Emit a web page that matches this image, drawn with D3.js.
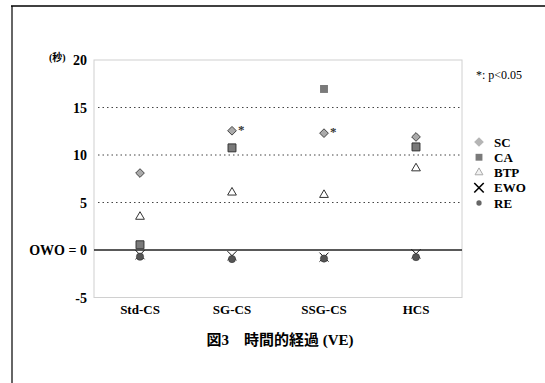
<!DOCTYPE html>
<html>
<head>
<meta charset="utf-8">
<script src="https://cdn.jsdelivr.net/npm/d3@7"></script>
<style>
  body { margin: 0; background: #fff; }
  text { font-family: "Liberation Serif", "Noto Sans CJK JP", serif; }
</style>
</head>
<body>
<script>
// data
var groups = ["Std-CS", "SG-CS", "SSG-CS", "HCS"];
var SC  = [8.1, 12.55, 12.3, 11.9];
var CA  = [0.55, 10.75, 16.95, 10.85];
var BTP = [3.5, 6.05, 5.8, 8.6];
var EWO = [-0.5, -0.6, -0.75, -0.4];
var RE  = [-0.7, -0.95, -0.9, -0.75];
var scSig = [false, true, true, false];   // "*" beside SC
var yTicks = [-5, 0, 5, 10, 15, 20];
var seriesNames = ["SC", "CA", "BTP", "EWO", "RE"];

var width = 545, height = 383;
var svg = d3.select("body").append("svg")
            .attr("width", width)
            .attr("height", height);

// outer frame (left + top lines)
svg.append("line").attr("x1", 12).attr("x2", 12).attr("y1", 6).attr("y2", height)
   .attr("stroke", "#666").attr("stroke-width", 2);
svg.append("line").attr("x1", 11).attr("x2", width).attr("y1", 6).attr("y2", 6)
   .attr("stroke", "#000").attr("stroke-width", 1.5);

var plot = {left: 94, right: 462, top: 60, bottom: 297.5};

var x = d3.scaleBand().domain(groups).range([plot.left, plot.right]);
var y = d3.scaleLinear().domain([-5, 20]).range([plot.bottom, plot.top]);
var cx = function (i) { return x(groups[i]) + x.bandwidth() / 2; };

// plot border
svg.append("rect")
   .attr("x", plot.left).attr("y", plot.top)
   .attr("width", plot.right - plot.left).attr("height", plot.bottom - plot.top)
   .attr("fill", "none").attr("stroke", "#d0d0d0").attr("stroke-width", 1);

// dotted grid lines
svg.selectAll(".grid").data([5, 10, 15]).enter().append("line")
   .attr("x1", plot.left + 4).attr("x2", plot.right)
   .attr("y1", function (d) { return y(d); }).attr("y2", function (d) { return y(d); })
   .attr("stroke", "#444").attr("stroke-width", 1).attr("stroke-dasharray", "1.5,3");

// zero line
svg.append("line")
   .attr("x1", plot.left).attr("x2", plot.right)
   .attr("y1", y(0)).attr("y2", y(0))
   .attr("stroke", "#222").attr("stroke-width", 1.3);

// y tick labels
svg.selectAll(".ytick").data(yTicks).enter().append("text")
   .attr("x", 87).attr("y", function (d) { return y(d) + 5; })
   .attr("text-anchor", "end").attr("font-size", 14).attr("font-weight", "bold")
   .text(function (d) { return d === 0 ? "OWO = 0" : d; });

svg.append("text").attr("x", 49).attr("y", 61)
   .attr("font-size", 10).attr("font-weight", "bold").text("(秒)");

// x labels
svg.selectAll(".xlab").data(groups).enter().append("text")
   .attr("x", function (d) { return x(d) + x.bandwidth() / 2; })
   .attr("y", 313.5)
   .attr("text-anchor", "middle").attr("font-size", 13).attr("font-weight", "bold")
   .text(function (d) { return d; });

// title
svg.append("text").attr("x", 280).attr("y", 345)
   .attr("text-anchor", "middle").attr("font-size", 15).attr("font-weight", "bold")
   .text("図3　時間的経過 (VE)");

svg.append("text").attr("x", 476).attr("y", 79)
   .attr("font-size", 12).text("*: p<0.05");

// markers
var diamond = d3.symbol().type(d3.symbolDiamond2).size(48);
var square = d3.symbol().type(d3.symbolSquare2).size(80);
var triangle = d3.symbol().type(d3.symbolTriangle2).size(55);
var cross = d3.symbol().type(d3.symbolX).size(55);

svg.selectAll(".btp").data(BTP).enter().append("path")
   .attr("d", triangle)
   .attr("transform", function (d, i) { return "translate(" + cx(i) + "," + y(d) + ")"; })
   .attr("fill", "#fff").attr("stroke", "#333").attr("stroke-width", 1);

svg.selectAll(".ca").data(CA).enter().append("path")
   .attr("d", square)
   .attr("transform", function (d, i) { return "translate(" + cx(i) + "," + y(d) + ")"; })
   .attr("fill", "#7a7a7a")
   .attr("stroke", function (d, i) { return i === 2 ? "none" : "#333"; })
   .attr("stroke-width", 1);

svg.selectAll(".sc").data(SC).enter().append("path")
   .attr("d", diamond)
   .attr("transform", function (d, i) { return "translate(" + cx(i) + "," + y(d) + ")"; })
   .attr("fill", "#aaa").attr("stroke", "#444").attr("stroke-width", 1);

svg.selectAll(".sig").data(SC).enter().append("text")
   .filter(function (d, i) { return scSig[i]; })
   .attr("x", function (d) { return cx(SC.indexOf(d)) + 6; })
   .attr("y", function (d) { return y(d) + 3; })
   .attr("font-size", 13).attr("font-weight", "bold").attr("fill", "#333")
   .text("*");

svg.selectAll(".ewo").data(EWO).enter().append("path")
   .attr("d", cross)
   .attr("transform", function (d, i) { return "translate(" + cx(i) + "," + y(d) + ")"; })
   .attr("fill", "none").attr("stroke", "#111").attr("stroke-width", 1);

svg.selectAll(".re").data(RE).enter().append("circle")
   .attr("cx", function (d, i) { return cx(i); })
   .attr("cy", function (d) { return y(d); })
   .attr("r", 3.6)
   .attr("fill", "#555").attr("stroke", "#333").attr("stroke-width", 0.6);

// legend
var legY = d3.scalePoint().domain(seriesNames).range([142, 203]);
var leg = svg.selectAll(".leg").data(seriesNames).enter().append("g")
             .attr("transform", function (d) { return "translate(479," + legY(d) + ")"; });
leg.append("path")
   .attr("d", function (d) {
     if (d === "SC") return d3.symbol().type(d3.symbolDiamond2).size(60)();
     if (d === "CA") return d3.symbol().type(d3.symbolSquare2).size(60)();
     if (d === "BTP") return d3.symbol().type(d3.symbolTriangle2).size(45)();
     if (d === "EWO") return d3.symbol().type(d3.symbolX).size(60)();
     return d3.symbol().type(d3.symbolCircle).size(22)();
   })
   .attr("fill", function (d) {
     if (d === "SC") return "#b5b5b5";
     if (d === "CA") return "#7a7a7a";
     if (d === "BTP") return "#f2f2f2";
     if (d === "EWO") return "none";
     return "#666";
   })
   .attr("stroke", function (d) {
     if (d === "BTP") return "#aaa";
     if (d === "EWO") return "#000";
     return "none";
   })
   .attr("stroke-width", function (d) { return d === "EWO" ? 1.6 : 1; });
leg.append("text")
   .attr("x", 15).attr("y", 4.5)
   .attr("font-size", 13).attr("font-weight", "bold")
   .text(function (d) { return d; });
</script>
</body>
</html>
